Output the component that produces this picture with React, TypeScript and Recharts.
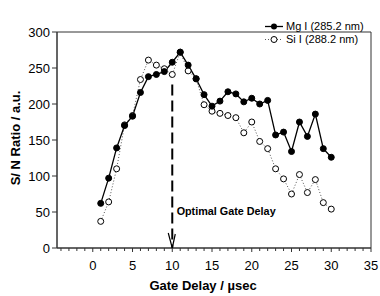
import { Label, Legend, Line, LineChart, ReferenceArea, ReferenceDot, ReferenceLine, XAxis, YAxis } from 'recharts'

const FONT = '"Liberation Sans", Arial, sans-serif'

const gateDelay = [1, 2, 3, 4, 5, 6, 7, 8, 9, 10, 11, 12, 13, 14, 15, 16, 17, 18, 19, 20, 21, 22, 23, 24, 25, 26, 27, 28, 29, 30]
const mgI = [62, 97, 139, 170, 183, 216, 238, 241, 245, 258, 272, 254, 235, 213, 197, 204, 217, 214, 203, 208, 200, 205, 157, 161, 134, 175, 155, 186, 138, 126]
const siI = [37, 64, 110, 171, 184, 234, 261, 254, 249, 241, 272, 246, 235, 199, 190, 187, 184, 181, 160, 175, 148, 138, 110, 96, 75, 102, 77, 95, 63, 54]

const xTicks = [-4, -3, -2, -1, 0, 1, 2, 3, 4, 5, 6, 7, 8, 9, 10, 11, 12, 13, 14, 15, 16, 17, 18, 19, 20, 21, 22, 23, 24, 25, 26, 27, 28, 29, 30, 31, 32, 33, 34, 35]
const xLabels = [0, 5, 10, 15, 20, 25, 30, 35]
const yTicks = [0, 50, 100, 150, 200, 250, 300]

const optimalDelay = 10
const optimalLineTop = 227

const data = gateDelay.map((x, i) => ({ x, mg: mgI[i], si: siI[i] }))

const AXIS = '#333'

const XTick = (props: any) => {
  const { x, y, payload } = props
  const major = xLabels.includes(payload.value)
  return (
    <g>
      <line x1={x} y1={y} x2={x} y2={y + (major ? 4 : 3)} stroke={AXIS} />
      {major && (
        <text x={x} y={y + 22} textAnchor="middle" fontSize={13} fontFamily={FONT} fill="#000">
          {payload.value}
        </text>
      )}
    </g>
  )
}

const FilledDot = (props: any) => <circle cx={props.cx} cy={props.cy} r={3} fill="#000" stroke="#000" />
const OpenDot = (props: any) => <circle cx={props.cx} cy={props.cy} r={3} fill="#fff" stroke="#000" strokeWidth={1} />

const renderLegend = () => (
  <div style={{ fontFamily: FONT, fontSize: 11, lineHeight: '13px', color: '#000' }}>
    <div style={{ display: 'flex', alignItems: 'center', height: 13 }}>
      <svg width={18} height={13}>
        <line x1={0} y1={6.5} x2={18} y2={6.5} stroke="#000" strokeWidth={1.3} />
        <circle cx={9} cy={6.5} r={3} fill="#000" />
      </svg>
      <span style={{ marginLeft: 3 }}>Mg I (285.2 nm)</span>
    </div>
    <div style={{ display: 'flex', alignItems: 'center', height: 13 }}>
      <svg width={18} height={13}>
        <line x1={0} y1={6.5} x2={18} y2={6.5} stroke="#555" strokeDasharray="1 2" />
        <circle cx={9} cy={6.5} r={3} fill="#fff" stroke="#000" />
      </svg>
      <span style={{ marginLeft: 3 }}>Si I (288.2 nm)</span>
    </div>
  </div>
)

const ArrowHead = (props: any) => (
  <path
    d={`M${props.cx - 4},${props.cy - 15} L${props.cx},${props.cy} L${props.cx + 3},${props.cy - 14}`}
    fill="none"
    stroke="#000"
    strokeWidth={1.2}
  />
)

const OptimalText = (props: any) => (
  <text x={props.cx} y={props.cy} dominantBaseline="central" fontSize={10.8} fontWeight="bold" fontFamily={FONT} fill="#000">
    Optimal Gate Delay
  </text>
)

export default function App() {
  return (
    <div style={{ position: 'absolute', left: 0, top: 0, background: '#fff' }}>
      <LineChart width={380} height={296} data={data} margin={{ top: 6, right: 9, left: 0, bottom: 0 }}>
        <XAxis
          dataKey="x"
          type="number"
          domain={[-4.5, 35]}
          ticks={xTicks}
          interval={0}
          height={48}
          tickLine={false}
          tickSize={0}
          tickMargin={0}
          tick={<XTick />}
          axisLine={{ stroke: AXIS }}>
          <Label
            content={() => (
              <text x={203} y={290} textAnchor="middle" fontSize={13} fontWeight="bold" fontFamily={FONT} fill="#000">
                Gate Delay / µsec
              </text>
            )}
          />
        </XAxis>
        <YAxis
          type="number"
          domain={[0, 300]}
          ticks={yTicks}
          width={57}
          tickSize={5}
          tickMargin={2}
          tick={{ fontSize: 13, fontFamily: FONT, fill: '#000' }}
          tickLine={{ stroke: AXIS }}
          axisLine={{ stroke: AXIS }}>
          <Label
            content={() => (
              <text
                x={15}
                y={138}
                transform="rotate(-90 15 138)"
                textAnchor="middle"
                dominantBaseline="central"
                fontSize={13}
                fontWeight="bold"
                fontFamily={FONT}
                fill="#000">
                S/ N Ratio / a.u.
              </text>
            )}
          />
        </YAxis>
        <ReferenceArea x1={-4.5} x2={35} y1={0} y2={300} fill="none" stroke={AXIS} ifOverflow="visible" />
        <ReferenceLine
          segment={[
            { x: optimalDelay, y: optimalLineTop },
            { x: optimalDelay, y: 0 },
          ]}
          stroke="#000"
          strokeWidth={2}
          strokeDasharray="11 5"
        />
        <ReferenceDot x={optimalDelay} y={0} shape={<ArrowHead />} ifOverflow="visible" />
        <ReferenceDot x={10.55} y={51} shape={<OptimalText />} />
        <Line dataKey="si" stroke="#555" strokeWidth={1} strokeDasharray="1 2" dot={<OpenDot />} isAnimationActive={false} />
        <Line dataKey="mg" stroke="#000" strokeWidth={1.3} dot={<FilledDot />} isAnimationActive={false} />
        <Legend layout="vertical" align="center" verticalAlign="top" content={renderLegend} wrapperStyle={{ left: 265, top: 20, width: 110 }} />
      </LineChart>
    </div>
  )
}
